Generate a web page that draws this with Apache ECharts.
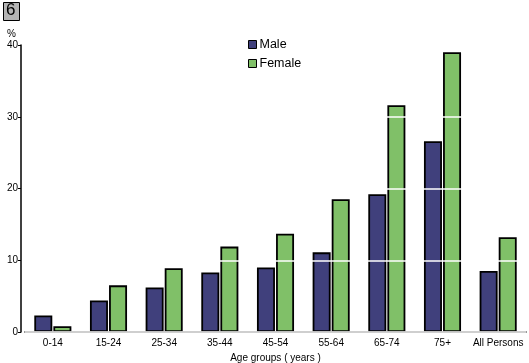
<!DOCTYPE html>
<html>
<head>
<meta charset="utf-8">
<script src="https://cdn.jsdelivr.net/npm/echarts@6/dist/echarts.min.js"></script>
<style>html,body{margin:0;padding:0;background:#fff}#c{width:529px;height:363px}</style>
</head>
<body>
<div id="c"></div>
<script>
var categories = ['0-14','15-24','25-34','35-44','45-54','55-64','65-74','75+','All Persons'];
var male = [2.3, 4.4, 6.2, 8.3, 9.0, 11.1, 19.2, 26.6, 8.5];
var female = [0.8, 6.5, 8.9, 11.9, 13.7, 18.5, 31.6, 39.0, 13.2];
var yTicks = [0, 10, 20, 30, 40];
var FONT = 'Liberation Sans';

var chart = echarts.init(document.getElementById('c'), null, {renderer: 'canvas'});
chart.setOption({
  animation: false,
  textStyle: {fontFamily: FONT},
  graphic: [
    {type: 'rect', left: 3, top: 2, shape: {width: 16, height: 18}, style: {fill: '#b4b4b4', stroke: '#000', lineWidth: 1}},
    {type: 'text', left: 6, top: 2, style: {text: '6', font: '17px ' + FONT, fill: '#000'}},
    {type: 'text', left: 7, top: 29, style: {text: '%', font: '10px ' + FONT, fill: '#000'}}
  ],
  legend: {
    orient: 'vertical', left: 243, top: 33, z: 20,
    itemWidth: 8, itemHeight: 8, itemGap: 6,
    icon: 'rect',
    textStyle: {fontSize: 12.5, fontFamily: FONT, color: '#000', padding: [0, 0, 0, -2]},
    itemStyle: {borderColor: '#000', borderWidth: 1},
    data: ['Male', 'Female']
  },
  grid: {left: 25, right: 3, top: 45, bottom: 31, containLabel: false, outerBoundsMode: 'none'},
  xAxis: {
    type: 'category', data: categories,
    name: 'Age groups ( years )', nameLocation: 'middle', nameGap: 18,
    nameTextStyle: {fontSize: 10, color: '#000', fontFamily: FONT},
    axisLine: {lineStyle: {color: '#000', width: 1.5}},
    axisTick: {alignWithLabel: true, length: 4, lineStyle: {color: '#000'}},
    axisLabel: {fontSize: 10, color: '#000', margin: 6, interval: 0}
  },
  yAxis: {
    type: 'value', min: 0, max: 40, interval: 10, offset: 4, z: 5,
    axisLine: {show: true, lineStyle: {color: '#000', width: 1.5}},
    axisTick: {show: true, length: 3, lineStyle: {color: '#000'}},
    axisLabel: {fontSize: 10, color: '#000', margin: 3,
      formatter: function (v) { return yTicks.indexOf(v) >= 0 ? String(v) : ''; }},
    splitLine: {show: true, lineStyle: {color: '#fff', width: 1.5}}
  },
  series: [
    {name: 'Male', type: 'bar', data: male, barWidth: 18, barGap: '6%', z: 2,
     itemStyle: {color: '#40407c', borderColor: '#000', borderWidth: 1.8}},
    {name: 'Female', type: 'bar', data: female, barWidth: 18, z: 2,
     itemStyle: {color: '#80c068', borderColor: '#000', borderWidth: 1.8}}
  ]
});
</script>
</body>
</html>
